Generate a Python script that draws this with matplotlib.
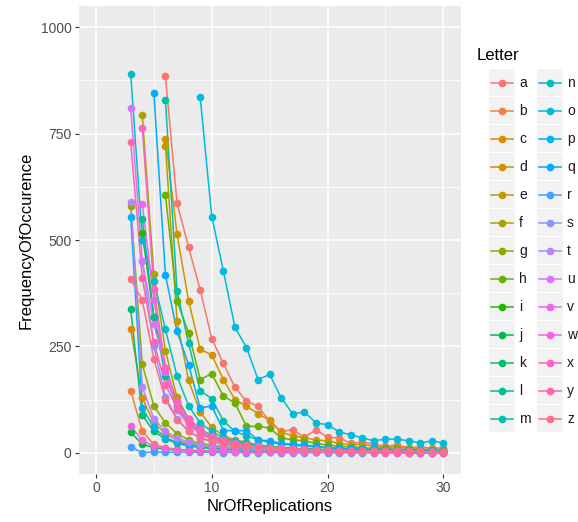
import numpy as np
import matplotlib
matplotlib.use("Agg")
import matplotlib.pyplot as plt
from matplotlib.patches import Rectangle
from matplotlib.lines import Line2D

plt.rcParams['font.family'] = ['Liberation Sans', 'DejaVu Sans']

letters = list("abcdefghijklmnopqrstuvwxyz")

# first NrOfReplications value of each letter, values follow one per replication up to 30
starts = [6, 3, 3, 6, 6, 4, 3, 6, 4, 3, 3, 4, 6,
          3, 9, 3, 5, 3, 4, 3, 3, 4, 3, 4, 3, 3]

freq_a = [885, 587, 483, 383, 268, 210, 154, 121, 109, 74, 50, 54, 36, 54, 36, 35, 22, 25, 20, 15, 18, 12, 14, 10, 12]
freq_b = [146, 50, 20, 12, 8, 6, 5, 4, 3, 3, 2, 2, 2, 2, 1, 1, 1, 1, 1, 1, 1, 1, 1, 0, 0, 0, 0, 0]
freq_c = [290, 129, 70, 45, 30, 22, 16, 12, 10, 8, 7, 6, 5, 5, 4, 4, 3, 3, 3, 2, 2, 2, 2, 2, 1, 1, 1, 1]
freq_d = [738, 514, 357, 243, 230, 172, 125, 109, 92, 76, 48, 40, 35, 30, 28, 22, 18, 20, 15, 12, 14, 10, 9, 8, 8]
freq_e = [721, 310, 170, 95, 60, 40, 30, 25, 18, 15, 12, 10, 8, 8, 6, 5, 5, 4, 4, 3, 3, 3, 2, 2, 2]
freq_f = [793, 420, 240, 130, 80, 55, 40, 30, 24, 20, 16, 14, 12, 10, 9, 8, 7, 6, 6, 5, 5, 4, 4, 3, 3, 3, 3]
freq_g = [580, 208, 110, 70, 45, 30, 22, 18, 14, 12, 10, 8, 7, 6, 5, 5, 4, 4, 3, 3, 3, 2, 2, 2, 2, 1, 1, 1]
freq_h = [606, 357, 282, 172, 186, 133, 117, 62, 62, 58, 35, 30, 28, 22, 18, 15, 14, 12, 10, 10, 8, 8, 6, 6, 5]
freq_i = [517, 318, 200, 120, 80, 55, 40, 30, 24, 19, 16, 13, 11, 10, 9, 8, 7, 6, 5, 5, 4, 4, 4, 3, 3, 3, 3]
freq_j = [48, 20, 12, 8, 6, 5, 4, 3, 3, 2, 2, 2, 2, 1, 1, 1, 1, 1, 1, 1, 1, 1, 1, 1, 0, 0, 0, 0]
freq_k = [337, 88, 50, 32, 22, 16, 12, 10, 8, 7, 6, 5, 5, 4, 4, 3, 3, 3, 2, 2, 2, 2, 2, 1, 1, 1, 1, 1]
freq_l = [549, 320, 180, 110, 70, 48, 35, 26, 20, 16, 13, 11, 9, 8, 7, 6, 5, 5, 4, 4, 3, 3, 3, 2, 2, 2, 2]
freq_m = [830, 380, 257, 146, 127, 75, 50, 40, 30, 25, 20, 18, 15, 14, 12, 10, 9, 8, 8, 7, 6, 6, 5, 5, 5]
freq_n = [890, 500, 404, 290, 180, 110, 70, 50, 35, 28, 22, 18, 15, 12, 10, 9, 8, 7, 6, 6, 5, 5, 4, 4, 4, 3, 3, 3]
freq_o = [836, 555, 428, 295, 247, 172, 184, 129, 91, 96, 70, 66, 49, 42, 35, 28, 32, 32, 28, 23, 28, 23]
freq_p = [555, 105, 60, 35, 25, 18, 14, 12, 10, 8, 7, 6, 5, 5, 4, 4, 3, 3, 3, 2, 2, 2, 2, 1, 1, 1, 1, 1]
freq_q = [845, 418, 285, 207, 105, 110, 52, 52, 52, 30, 28, 22, 20, 18, 15, 12, 10, 10, 8, 8, 6, 6, 5, 5, 4, 4]
freq_r = [14, 0, 2, 1, 1, 1, 1, 1, 0, 1, 0, 0, 1, 0, 0, 0, 1, 0, 0, 0, 0, 0, 0, 0, 0, 0, 0, 0]
freq_s = [451, 250, 130, 80, 50, 35, 25, 20, 15, 12, 10, 9, 8, 7, 6, 5, 5, 4, 4, 3, 3, 3, 2, 2, 2, 2, 2]
freq_t = [590, 154, 80, 50, 35, 25, 18, 14, 12, 10, 8, 7, 6, 5, 5, 4, 4, 3, 3, 3, 2, 2, 2, 2, 2, 1, 1, 1]
freq_u = [810, 451, 302, 200, 120, 75, 50, 35, 25, 20, 15, 12, 10, 9, 8, 7, 6, 5, 5, 4, 4, 3, 3, 3, 2, 2, 2, 2]
freq_v = [585, 359, 190, 100, 65, 45, 32, 25, 20, 16, 13, 11, 10, 8, 7, 6, 6, 5, 4, 4, 4, 3, 3, 3, 2, 2, 2]
freq_w = [62, 30, 15, 10, 7, 5, 4, 3, 3, 2, 2, 2, 1, 1, 1, 1, 1, 1, 1, 1, 1, 0, 0, 0, 0, 0, 0, 0]
freq_x = [764, 386, 200, 121, 80, 55, 40, 30, 24, 18, 15, 12, 10, 9, 8, 7, 6, 5, 5, 4, 4, 3, 3, 3, 2, 2, 2]
freq_y = [730, 410, 260, 160, 105, 70, 45, 32, 25, 18, 15, 12, 10, 9, 8, 7, 6, 5, 5, 4, 4, 3, 3, 3, 2, 2, 2, 2]
freq_z = [408, 359, 220, 125, 78, 50, 35, 28, 22, 18, 15, 12, 10, 9, 8, 7, 6, 6, 5, 5, 4, 4, 3, 3, 3, 3, 2, 2]

freqs = [freq_a, freq_b, freq_c, freq_d, freq_e, freq_f, freq_g, freq_h, freq_i,
         freq_j, freq_k, freq_l, freq_m, freq_n, freq_o, freq_p, freq_q, freq_r,
         freq_s, freq_t, freq_u, freq_v, freq_w, freq_x, freq_y, freq_z]


def hcl_hex(h, c=100.0, l=65.0):
    # ggplot hue palette colour (polar Luv -> sRGB)
    Xn, Yn, Zn = 95.047, 100.0, 108.883
    un = 4 * Xn / (Xn + 15 * Yn + 3 * Zn)
    vn = 9 * Yn / (Xn + 15 * Yn + 3 * Zn)
    hr = np.deg2rad(h)
    u, v = c * np.cos(hr), c * np.sin(hr)
    Y = Yn * ((l + 16) / 116) ** 3
    up = u / (13 * l) + un
    vp = v / (13 * l) + vn
    X = Y * 9 * up / (4 * vp)
    Z = Y * (12 - 3 * up - 20 * vp) / (4 * vp)
    M = np.array([[3.2404542, -1.5371385, -0.4985314],
                  [-0.9692660, 1.8760108, 0.0415560],
                  [0.0556434, -0.2040259, 1.0572252]])
    rgb = M @ (np.array([X, Y, Z]) / 100)
    rgb = np.where(rgb <= 0.0031308, 12.92 * rgb, 1.055 * np.abs(rgb) ** (1 / 2.4) - 0.055)
    return np.clip(rgb, 0, 1)


hues = np.linspace(15, 375, 27)[:26]
colors = [hcl_hex(h) for h in hues]

W, H = 578, 522
fig = plt.figure(figsize=(W / 100, H / 100), dpi=100)
ax = fig.add_axes([78.6 / W, 1 - 474 / H, (460.7 - 78.6) / W, (474 - 6) / H])
ax.set_facecolor("#EBEBEB")
for s in ax.spines.values():
    s.set_visible(False)

ax.set_xlim(-1.5, 31.5)
ax.set_ylim(-50, 1050)
ax.set_xticks([0, 10, 20, 30])
ax.set_yticks([0, 250, 500, 750, 1000])
ax.set_xticks([5, 15, 25], minor=True)
ax.set_yticks([125, 375, 625, 875], minor=True)
ax.grid(which="major", color="white", linewidth=1.1)
ax.grid(which="minor", color="white", linewidth=0.55)
ax.set_axisbelow(True)
ax.tick_params(which="major", length=3, width=0.8, color="#333333",
               labelsize=10, labelcolor="#4D4D4D", pad=2)
ax.tick_params(which="minor", length=0)

for i, lt in enumerate(letters):
    xs = np.arange(starts[i], starts[i] + len(freqs[i]))
    ax.plot(xs, freqs[i], color=colors[i], linewidth=1.1, zorder=2)
for i, lt in enumerate(letters):
    xs = np.arange(starts[i], starts[i] + len(freqs[i]))
    ax.plot(xs, freqs[i], linestyle="none", marker="o", markersize=5.5,
            color=colors[i], markeredgewidth=0, zorder=3)

ax.set_xlabel("NrOfReplications", fontsize=12, labelpad=3)
ax.set_ylabel("FrequencyOfOccurence", fontsize=12, labelpad=5)

# legend drawn in pixel space
leg = fig.add_axes([0, 0, 1, 1])
leg.set_xlim(0, W)
leg.set_ylim(H, 0)
leg.axis("off")
leg.text(477, 56, "Letter", fontsize=12, va="center", ha="left")
for i, lt in enumerate(letters):
    col, row = divmod(i, 13)
    x0 = 489 + col * 48
    yc = 82.7 + 28 * row
    leg.add_patch(Rectangle((x0, yc - 13.5), 26, 27, facecolor="#F2F2F2", edgecolor="none"))
    leg.add_line(Line2D([x0 + 2, x0 + 24], [yc, yc], color=colors[i], linewidth=1.1))
    leg.plot(x0 + 13, yc, marker="o", markersize=5.5, color=colors[i], markeredgewidth=0)
    leg.text(x0 + 30, yc, lt, fontsize=10, va="center", ha="left", color="#1A1A1A")

fig.savefig("out.png", dpi=100)
